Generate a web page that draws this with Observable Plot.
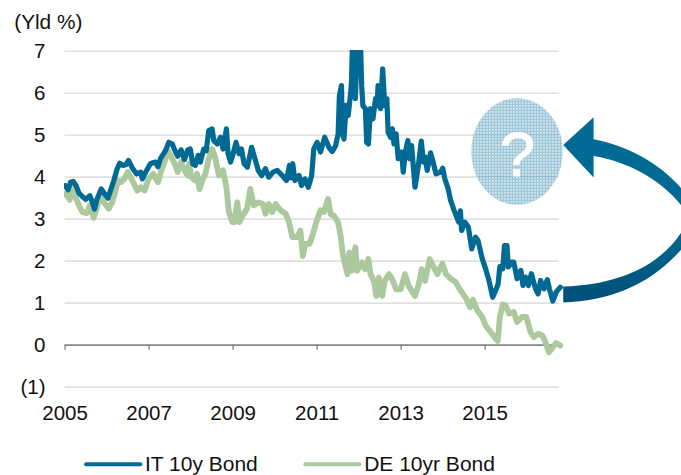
<!DOCTYPE html>
<html><head><meta charset="utf-8">
<script src="https://cdn.jsdelivr.net/npm/d3@7"></script>
<script src="https://cdn.jsdelivr.net/npm/@observablehq/plot@0.6"></script>
<style>html,body{margin:0;padding:0;background:#fff}svg{display:block}</style>
</head><body><div id="chart"></div>
<script>
const itYears=[2005.00,2005.07,2005.13,2005.19,2005.26,2005.33,2005.41,2005.49,2005.59,2005.66,2005.70,2005.76,2005.86,2005.94,2006.02,2006.08,2006.16,2006.24,2006.30,2006.38,2006.45,2006.51,2006.60,2006.70,2006.80,2006.84,2006.94,2007.03,2007.15,2007.21,2007.27,2007.39,2007.47,2007.55,2007.63,2007.68,2007.76,2007.84,2007.92,2007.98,2008.04,2008.10,2008.17,2008.22,2008.30,2008.36,2008.42,2008.50,2008.54,2008.62,2008.70,2008.76,2008.84,2008.88,2008.94,2008.99,2009.07,2009.14,2009.20,2009.26,2009.34,2009.44,2009.52,2009.60,2009.68,2009.77,2009.85,2009.95,2010.05,2010.17,2010.27,2010.34,2010.38,2010.42,2010.47,2010.57,2010.63,2010.71,2010.79,2010.87,2010.92,2011.00,2011.08,2011.18,2011.28,2011.36,2011.44,2011.50,2011.53,2011.58,2011.60,2011.64,2011.69,2011.74,2011.80,2011.82,2011.85,2011.91,2011.96,2011.99,2012.03,2012.06,2012.09,2012.15,2012.18,2012.22,2012.27,2012.33,2012.39,2012.43,2012.45,2012.51,2012.56,2012.61,2012.66,2012.69,2012.75,2012.79,2012.83,2012.88,2012.93,2013.01,2013.05,2013.10,2013.16,2013.20,2013.25,2013.33,2013.41,2013.48,2013.53,2013.57,2013.62,2013.70,2013.76,2013.83,2013.94,2013.99,2014.04,2014.12,2014.18,2014.26,2014.37,2014.41,2014.44,2014.52,2014.60,2014.68,2014.77,2014.83,2014.93,2015.01,2015.09,2015.18,2015.25,2015.31,2015.35,2015.42,2015.46,2015.52,2015.55,2015.63,2015.68,2015.76,2015.85,2015.90,2015.96,2016.03,2016.10,2016.20,2016.26,2016.32,2016.40,2016.48,2016.53,2016.61,2016.69,2016.79];
const itYields=[3.80,3.70,3.88,3.90,3.80,3.62,3.54,3.47,3.56,3.37,3.24,3.48,3.72,3.60,3.50,3.68,3.92,4.20,4.33,4.28,4.30,4.40,4.22,4.08,4.12,3.96,4.16,4.32,4.36,4.25,4.44,4.63,4.83,4.79,4.60,4.50,4.65,4.42,4.65,4.67,4.32,4.28,4.52,4.36,4.67,4.63,5.11,5.15,4.87,4.79,4.95,4.67,5.15,4.56,4.36,4.52,4.83,4.56,4.67,4.32,4.24,4.71,4.44,4.16,4.04,4.20,4.00,4.12,4.16,4.04,3.92,4.28,3.98,4.32,3.92,4.04,3.80,3.96,3.76,4.04,4.67,4.83,4.60,4.95,4.71,4.61,4.75,5.03,5.94,6.18,5.03,4.91,5.71,5.47,6.02,6.34,7.60,5.87,7.30,6.50,7.30,6.18,5.70,5.63,4.83,4.79,5.63,5.39,5.87,5.70,6.18,5.63,6.58,5.70,5.87,5.07,4.95,5.15,4.79,5.03,4.44,4.60,4.12,4.60,4.87,4.44,4.75,3.76,4.28,4.86,4.36,4.48,4.16,4.58,4.36,4.08,4.12,4.21,3.96,3.72,3.44,3.21,2.93,3.20,2.73,2.93,2.81,2.29,2.57,2.49,2.06,1.82,1.54,1.14,1.30,1.46,1.87,1.82,2.37,2.37,1.86,1.98,1.98,1.58,1.78,1.42,1.62,1.42,1.70,1.34,1.22,1.54,1.34,1.56,1.34,1.05,1.26,1.38];
const deYears=[2005.00,2005.05,2005.11,2005.17,2005.25,2005.33,2005.41,2005.51,2005.59,2005.68,2005.75,2005.84,2005.92,2006.04,2006.12,2006.18,2006.26,2006.33,2006.41,2006.49,2006.60,2006.72,2006.80,2006.89,2006.99,2007.10,2007.21,2007.29,2007.37,2007.45,2007.53,2007.63,2007.68,2007.76,2007.84,2007.92,2007.95,2008.01,2008.09,2008.14,2008.20,2008.28,2008.34,2008.42,2008.50,2008.57,2008.66,2008.76,2008.84,2008.90,2008.98,2009.03,2009.10,2009.15,2009.23,2009.33,2009.41,2009.49,2009.60,2009.71,2009.77,2009.85,2009.93,2010.01,2010.13,2010.25,2010.33,2010.41,2010.53,2010.60,2010.66,2010.72,2010.82,2010.90,2010.98,2011.08,2011.16,2011.26,2011.32,2011.40,2011.50,2011.56,2011.61,2011.72,2011.77,2011.82,2011.91,2011.95,2012.07,2012.14,2012.22,2012.27,2012.35,2012.41,2012.47,2012.55,2012.61,2012.71,2012.79,2012.88,2012.99,2013.09,2013.18,2013.33,2013.42,2013.49,2013.57,2013.68,2013.76,2013.86,2013.98,2014.07,2014.18,2014.30,2014.39,2014.55,2014.64,2014.71,2014.81,2014.93,2015.01,2015.13,2015.25,2015.30,2015.35,2015.42,2015.49,2015.57,2015.68,2015.76,2015.88,2015.98,2016.08,2016.16,2016.26,2016.36,2016.42,2016.52,2016.61,2016.69,2016.79];
const deYields=[3.60,3.56,3.46,3.76,3.52,3.33,3.17,3.14,3.33,3.03,3.25,3.56,3.41,3.25,3.40,3.60,3.92,3.88,3.96,4.12,3.92,3.68,3.76,3.68,3.96,4.08,3.88,4.16,4.36,4.63,4.48,4.28,4.12,4.36,4.16,4.04,4.32,4.00,3.92,4.08,3.71,3.96,4.08,4.44,4.67,4.48,4.04,4.16,3.76,3.17,2.93,2.93,3.40,2.93,3.09,3.25,3.72,3.33,3.40,3.36,3.13,3.36,3.17,3.36,3.21,3.13,2.93,2.57,2.57,2.73,2.12,2.41,2.41,2.65,2.93,3.21,3.17,3.48,3.12,3.08,2.92,2.60,2.17,1.69,2.21,1.77,2.33,1.77,1.97,1.81,2.05,1.69,1.53,1.17,1.61,1.17,1.53,1.69,1.57,1.33,1.33,1.69,1.41,1.17,1.45,1.81,1.53,2.05,1.89,1.69,1.94,1.69,1.58,1.50,1.34,1.10,0.90,1.08,0.83,0.67,0.47,0.31,0.15,0.10,0.67,0.97,0.94,0.75,0.79,0.55,0.67,0.67,0.31,0.19,0.27,0.23,0.11,-0.17,-0.05,0.05,-0.01];
const itName="IT 10y Bond", deName="DE 10yr Bond";
const yTicks=[7,6,5,4,3,2,1,0,-1];
const xTicks=[2005,2007,2009,2011,2013,2015];
const yTitle="(Yld %)";
const IT="#006a94", DE="#acc89d", INK="#111";
const FONT="'Liberation Sans', Arial, sans-serif";
const table=(ys,vs)=>ys.map((d,i)=>({d,v:vs[i]}));

// Decorations, anchored in chart units and placed through the scales
function ellipseMark(index,{x,y}){
  const g=d3.create("svg:g");
  const p=g.append("defs").append("pattern").attr("id","dots").attr("patternUnits","userSpaceOnUse").attr("width",3).attr("height",3);
  p.append("rect").attr("width",3).attr("height",3).attr("fill","#4f98bb").attr("fill-opacity",.55);
  p.append("rect").attr("width",1.8).attr("height",1.8).attr("fill","#fff").attr("fill-opacity",.55);
  g.append("ellipse").attr("cx",x(2015.77)).attr("cy",y(4.6)).attr("rx",45.7).attr("ry",53.3).attr("fill","url(#dots)");
  return g.node();
}
function arrowMark(index,{x,y}){
  const g=d3.create("svg:g").attr("transform",`translate(${x(2016.87)},${y(4.757)})`);
  const lg=g.append("defs").append("linearGradient").attr("id","arrowFill").attr("gradientUnits","userSpaceOnUse").attr("x1",0).attr("x2",0).attr("y1",0).attr("y2",158);
  lg.append("stop").attr("offset",.5).attr("stop-color","#006a94");
  lg.append("stop").attr("offset",.95).attr("stop-color","#00527a");
  g.append("path").attr("fill","url(#arrowFill)").attr("d","M0,141.7C56.7,140 96.7,120 117.7,88C122.7,79 122.7,69 117.7,60C96.7,33 61.7,16 30.4,11L30.4,32.7L0,0L30.4,-27.7L30.4,-5.7C61.7,0 96.7,18 117.7,43C131.7,60 131.7,87 117.7,105C86.7,140 46.7,156 0,157.7Z");
  return g.node();
}

const plot=Plot.plot({
  width:681,height:475,
  marginTop:50,marginLeft:64,marginRight:118,marginBottom:88,
  style:{fontFamily:FONT,fontSize:"20.5px",background:"#fff",color:INK},
  x:{domain:[2005,2016.77],range:[64.6,559]},
  y:{domain:[-1,7],range:[386.6,50.7]},
  marks:[
    Plot.ruleY(yTicks.filter(d=>d!==0),{x1:2005,x2:2016.77,stroke:"#e0e0e0",strokeWidth:1.6}),
    Plot.ruleY([0],{x1:2005,x2:2016.77,stroke:"#868686",strokeWidth:1.6}),
    Plot.ruleX(xTicks,{y1:0,y2:-0.12,stroke:"#868686",strokeWidth:1.4}),
    Plot.axisY({ticks:yTicks,tickSize:0,tickPadding:0,dx:-19,label:null,fontSize:20.5,tickFormat:d=>d<0?`(${-d})`:`${d}`}),
    Plot.axisX({ticks:xTicks,tickSize:0,tickPadding:18,label:null,fontSize:20.5,tickFormat:d=>`${d}`}),
    ellipseMark,
    Plot.line(table(deYears,deYields),{x:"d",y:"v",stroke:DE,strokeWidth:5.8,clip:true,curve:"linear"}),
    Plot.line(table(itYears,itYields),{x:"d",y:"v",stroke:IT,strokeWidth:5.2,clip:true,curve:"linear"}),
    Plot.text(["?"],{x:2015.77,y:4.5,text:d=>d,fill:"#fff",stroke:"#fff",strokeWidth:1.2,fontSize:63,textAnchor:"middle",lineAnchor:"middle"}),
    arrowMark,
    Plot.text([yTitle],{x:2004.6,y:7.68,text:d=>d,fill:INK,fontSize:20.8,textAnchor:"middle",lineAnchor:"middle"}),
    Plot.line([{d:2005.5,v:-2.84},{d:2006.79,v:-2.84}],{x:"d",y:"v",stroke:IT,strokeWidth:4,strokeLinecap:"round"}),
    Plot.line([{d:2010.72,v:-2.84},{d:2012.01,v:-2.84}],{x:"d",y:"v",stroke:DE,strokeWidth:4,strokeLinecap:"round"}),
    Plot.text([itName],{x:2006.9,y:-2.84,text:d=>d,fill:INK,fontSize:21,textAnchor:"start",lineAnchor:"middle"}),
    Plot.text([deName],{x:2012.12,y:-2.84,text:d=>d,fill:INK,fontSize:21,textAnchor:"start",lineAnchor:"middle"})
  ]
});
document.getElementById("chart").append(plot);
</script></body></html>
